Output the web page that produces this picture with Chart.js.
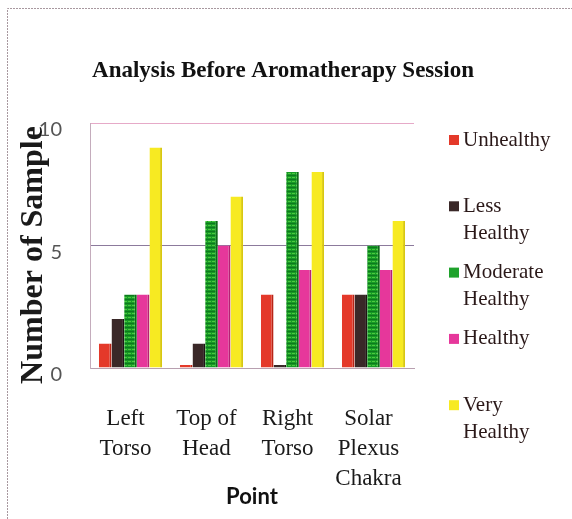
<!DOCTYPE html>
<html>
<head>
<meta charset="utf-8">
<script src="https://cdn.jsdelivr.net/npm/chart.js@4.4.0/dist/chart.umd.min.js"></script>
<style>
  html, body { margin: 0; padding: 0; background: #ffffff; }
  #c { display: block; }
</style>
</head>
<body>
<canvas id="c" width="572" height="519"></canvas>
<script>
// ---- data ----
const chartTitle = 'Analysis Before Aromatherapy Session';
const yTitle = 'Number of Sample';
const xTitle = 'Point';
const categories = [['Left', 'Torso'], ['Top of', 'Head'], ['Right', 'Torso'], ['Solar', 'Plexus', 'Chakra']];
const seriesNames = ['Unhealthy', 'Less Healthy', 'Moderate Healthy', 'Healthy', 'Very Healthy'];
const legendLines = [['Unhealthy'], ['Less', 'Healthy'], ['Moderate', 'Healthy'], ['Healthy'], ['Very', 'Healthy']];
const unhealthy = [1, 0, 3, 3];
const lessHealthy = [2, 1, 0, 3];
const moderateHealthy = [3, 6, 8, 5];
const healthy = [3, 5, 4, 4];
const veryHealthy = [9, 7, 8, 6];
const yTicks = [0, 5, 10];

// ---- styles ----
function greenPattern() {
  const p = document.createElement('canvas');
  p.width = 4; p.height = 4;
  const g = p.getContext('2d');
  g.fillStyle = '#169a26';
  g.fillRect(0, 0, 4, 4);
  g.fillStyle = '#4cc83e';
  g.fillRect(0, 1, 3, 1);
  g.fillStyle = '#0e7a1c';
  g.fillRect(0, 3, 4, 1);
  return g.createPattern(p, 'repeat');
}
const ctx = document.getElementById('c').getContext('2d');
const colors = ['#e4392a', '#3a2828', greenPattern(), '#e6379b', '#f7ea22'];
const swatch = ['#e4392a', '#3a2828', '#1fa22c', '#e6379b', '#f7ea22'];
const sideColors = ['#b82416', '#201414', '#0c6a16', '#b81f74', '#d8c810'];
const values = [unhealthy, lessHealthy, moderateHealthy, healthy, veryHealthy];

const datasets = values.map((v, i) => ({
  label: seriesNames[i],
  data: v,
  backgroundColor: colors[i],
  borderColor: sideColors[i],
  borderWidth: { top: 0, left: 0, bottom: 0, right: 2 },
  borderSkipped: false,
  minBarLength: 3,
  categoryPercentage: 0.78,
  barPercentage: 1.0
}));

const frame = {
  id: 'frame',
  beforeDraw(chart) {
    const c = chart.ctx;
    c.save();
    c.strokeStyle = '#a8989f';
    c.lineWidth = 1;
    c.setLineDash([2, 1]);
    c.beginPath();
    c.moveTo(7.5, 519);
    c.lineTo(7.5, 8.5);
    c.lineTo(572, 8.5);
    c.stroke();
    c.restore();
  }
};

const texts = {
  id: 'texts',
  afterDraw(chart) {
    const c = chart.ctx;
    c.save();
    // chart title
    c.font = 'bold 23px "Liberation Serif"';
    c.fillStyle = '#111111';
    c.textAlign = 'center';
    c.textBaseline = 'middle';
    c.fillText(chartTitle, 283, 71);
    // y axis title
    c.save();
    c.translate(33.5, 255);
    c.rotate(-Math.PI / 2);
    c.font = 'bold 32px "Liberation Serif"';
    c.fillStyle = '#1a1a1a';
    c.fillText(yTitle, 0, 0);
    c.restore();
    // legend
    c.font = '21px "Liberation Serif"';
    c.textAlign = 'left';
    chart.data.datasets.forEach((ds, i) => {
      const y0 = 140 + i * 66.3;
      c.fillStyle = swatch[i];
      c.fillRect(449, y0 - 5, 10, 10);
      c.fillStyle = '#2a1818';
      legendLines[i].forEach((line, j) => {
        c.fillText(line, 463, y0 + j * 27);
      });
    });
    c.restore();
  }
};

new Chart(ctx, {
  type: 'bar',
  data: { labels: categories, datasets },
  options: {
    responsive: false,
    devicePixelRatio: 1,
    animation: false,
    layout: { padding: { left: 10, right: 158, top: 123, bottom: 0 } },
    plugins: {
      legend: { display: false },
      tooltip: { enabled: false },
      title: { display: false }
    },
    scales: {
      x: {
        grid: { display: false },
        border: { display: true, color: '#b8a0b0' },
        ticks: {
          color: '#1a1a1a',
          font: { family: '"Liberation Serif"', size: 23, lineHeight: 1.3 },
          padding: 28,
          labelOffset: -5,
          maxRotation: 0,
          autoSkip: false
        },
        title: {
          display: true,
          text: xTitle,
          color: '#111111',
          font: { family: 'Lato', size: 22, weight: 'bold', lineHeight: 1.2 },
          padding: { top: 0, bottom: 9 }
        },
        afterFit(s) { s.height = 151; }
      },
      y: {
        min: 0,
        max: 10,
        afterBuildTicks(s) { s.ticks = yTicks.map(v => ({ value: v })); },
        grid: {
          drawTicks: false,
          color(c) {
            const v = c.tick && c.tick.value;
            if (v === 10) return '#e6aac8';
            if (v === 5) return '#8c7a9c';
            return '#c8a8b8';
          }
        },
        border: { display: true, color: '#c4acbc' },
        ticks: {
          color: '#555555',
          font: { family: 'Lato', size: 20 },
          padding: 28,
          labelOffset: 7
        },
        title: { display: false },
        afterFit(s) { s.width = 80; }
      }
    }
  },
  plugins: [frame, texts]
});
</script>
</body>
</html>
